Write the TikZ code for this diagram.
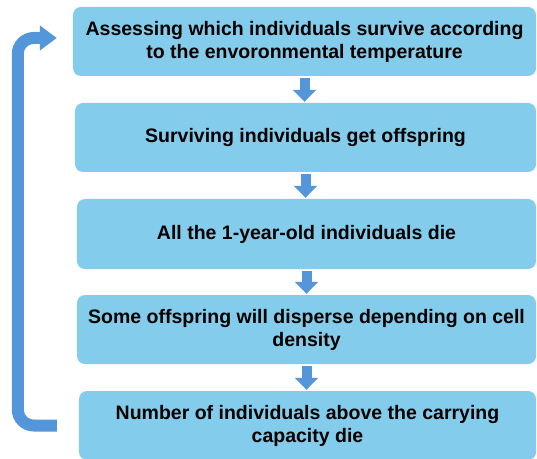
\documentclass[tikz,border=0pt]{standalone}
\usepackage{fontspec}
\setmainfont{Liberation Sans}
\usetikzlibrary{arrows.meta}
\definecolor{boxblue}{RGB}{131,204,235}
\definecolor{arrowblue}{RGB}{84,150,218}

\begin{document}
\begin{tikzpicture}[x=1bp,y=-1bp,
  stepbox/.style={fill=boxblue,rounded corners=8bp,minimum height=69bp,inner sep=0pt,
    align=center,font=\fontsize{19.5bp}{23bp}\selectfont\bfseries},
  down/.style={arrowblue,line width=10bp,-{Triangle[width=23bp,length=12bp]},
    shorten <=2bp,shorten >=1bp},
  back/.style={arrowblue,line width=12bp,rounded corners=16bp,
    -{Triangle[width=24bp,length=17bp]},shorten <=22bp,shorten >=16bp}]
\useasboundingbox (0,0) rectangle (537,459);
% the five steps of one year
\node[stepbox,minimum width=463bp] (b1) at (304.5,41.5) {Assessing which individuals survive according\\to the envoronmental temperature};
\node[stepbox,minimum width=461bp] (b2) at (305.5,137.5) {Surviving individuals get offspring};
\node[stepbox,minimum width=459bp,minimum height=70bp] (b3) at (306.5,234) {All the 1-year-old individuals die};
\node[stepbox,minimum width=459bp] (b4) at (306.5,329.5) {Some offspring will disperse depending on cell\\density};
\node[stepbox,minimum width=457bp] (b5) at (307.5,425.5) {Number of individuals above the carrying\\capacity die};
% arrows between steps
\draw[down] (b1.south) -- (b1.south |- b2.north);
\draw[down] (b2.south) -- (b2.south |- b3.north);
\draw[down] (b3.south) -- (b3.south |- b4.north);
\draw[down] (b4.south) -- (b4.south |- b5.north);
% back to the start of the next year
\draw[back] (b5.west) -- ++(-61,0) |- ([yshift=3.5bp]b1.west);
\end{tikzpicture}
\end{document}
